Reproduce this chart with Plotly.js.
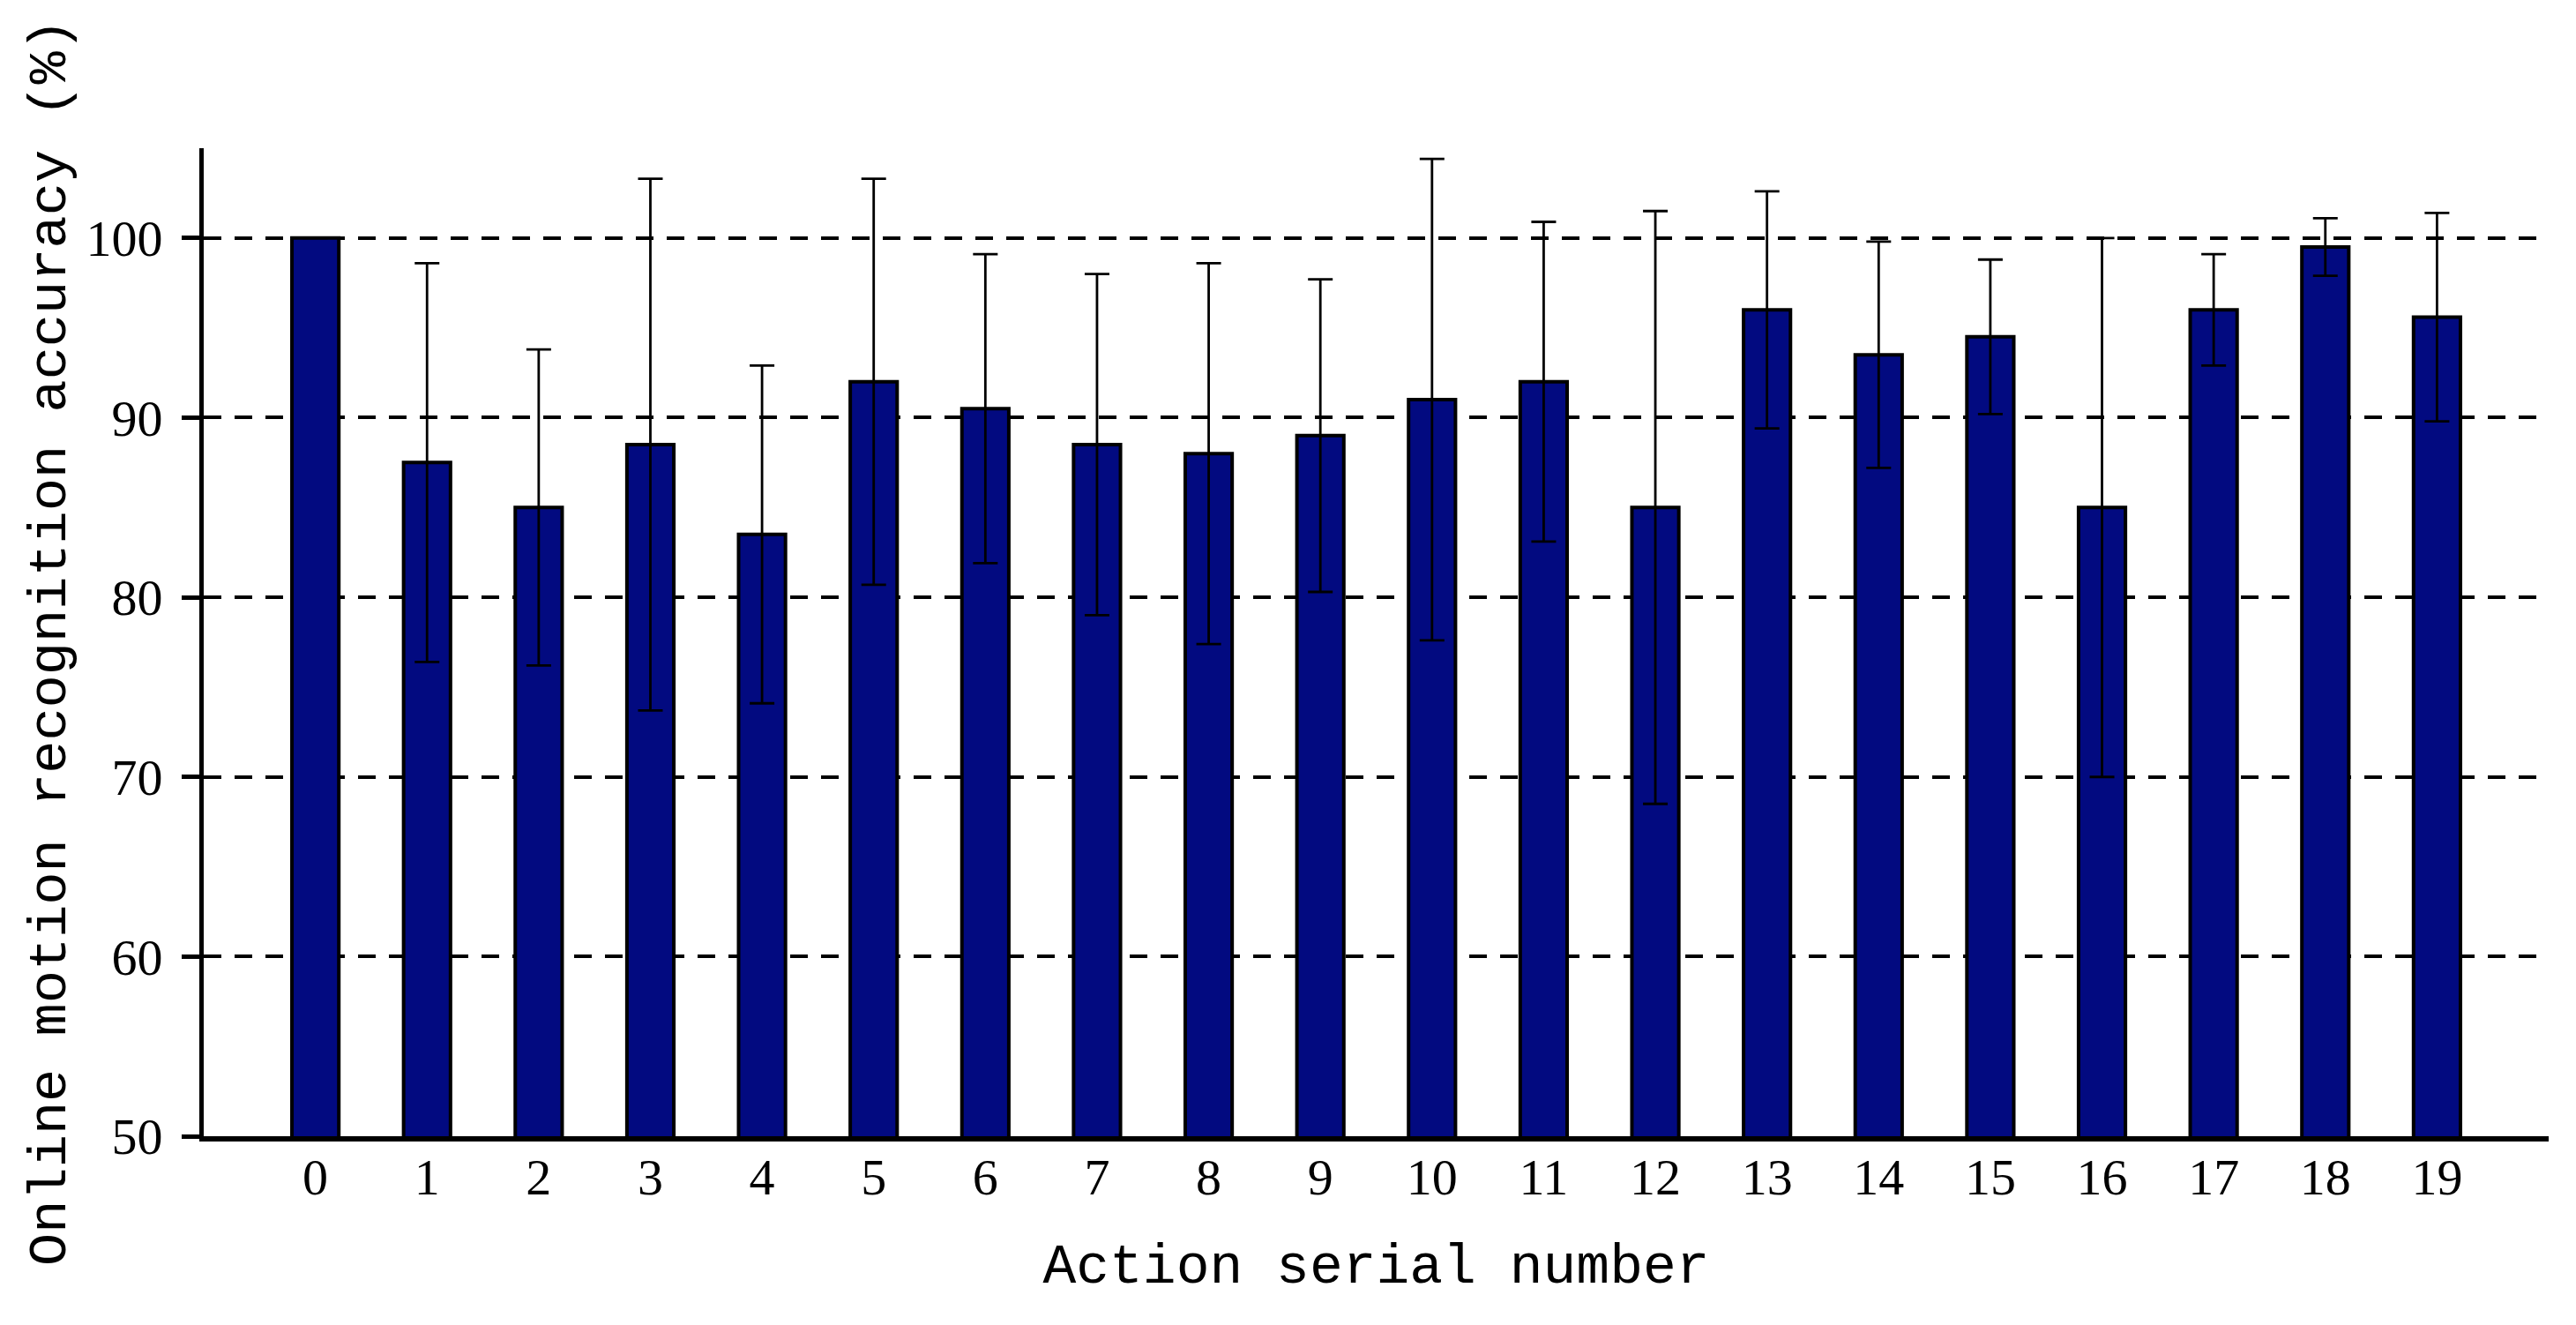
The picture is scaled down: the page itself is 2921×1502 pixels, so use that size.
<!DOCTYPE html>
<html>
<head>
<meta charset="utf-8">
<script src="https://cdn.plot.ly/plotly-3.0.1.min.js"></script>
<style>
  html, body { margin: 0; padding: 0; background: #ffffff; }
  #chart { width: 2921px; height: 1502px; }
</style>
</head>
<body>
<div id="chart"></div>
<script>
// ---- Data ----
const actionNumbers = [0, 1, 2, 3, 4, 5, 6, 7, 8, 9, 10, 11, 12, 13, 14, 15, 16, 17, 18, 19];
const meanAccuracy  = [100, 87.5, 85, 88.5, 83.5, 92, 90.5, 88.5, 88, 89, 91, 92, 85, 96, 93.5, 94.5, 85, 96, 99.5, 95.6];
const accuracyError = [0, 11.1, 8.8, 14.8, 9.4, 11.3, 8.6, 9.5, 10.6, 8.7, 13.4, 8.9, 16.5, 6.6, 6.3, 4.3, 15.0, 3.1, 1.6, 5.8];
const yTickValues   = [50, 60, 70, 80, 90, 100];
const xAxisTitle = 'Action serial number';
const yAxisTitle = 'Online motion recognition accuracy (%)';

const trace = {
  type: 'bar',
  x: actionNumbers,
  y: meanAccuracy,
  base: 0,
  width: 0.42,
  marker: {
    color: '#020a80',
    line: { color: '#000000', width: 4 }
  },
  error_y: {
    type: 'data',
    array: accuracyError,
    symmetric: true,
    visible: true,
    color: '#000000',
    thickness: 2.8,
    width: 14
  },
  hoverinfo: 'skip'
};

const layout = {
  width: 2921,
  height: 1502,
  margin: { l: 231, r: 31, t: 168, b: 214, pad: 0 },
  paper_bgcolor: '#ffffff',
  plot_bgcolor: '#ffffff',
  showlegend: false,
  xaxis: {
    range: [-1, 20],
    tickvals: actionNumbers,
    ticktext: actionNumbers.map(String),
    showgrid: false,
    zeroline: false,
    showline: true,
    linecolor: '#000000',
    linewidth: 6,
    ticks: '',
    ticklabelstandoff: -10,
    tickfont: { family: 'Liberation Serif, Times New Roman, serif', size: 58, color: '#000000' },
    title: {
      text: xAxisTitle,
      standoff: 46,
      font: { family: 'Liberation Mono, Courier New, monospace', size: 63, color: '#000000' }
    },
    fixedrange: true
  },
  yaxis: {
    range: [50, 105],
    tickvals: yTickValues,
    ticktext: yTickValues.map(String),
    showgrid: true,
    gridcolor: '#000000',
    gridwidth: 4,
    griddash: '20px,15px',
    zeroline: false,
    showline: true,
    linecolor: '#000000',
    linewidth: 5,
    ticks: 'outside',
    ticklen: 20,
    tickwidth: 5,
    tickcolor: '#000000',
    ticklabelstandoff: 10,
    tickfont: { family: 'Liberation Serif, Times New Roman, serif', size: 58, color: '#000000' },
    title: {
      text: yAxisTitle,
      standoff: 4,
      font: { family: 'Liberation Mono, Courier New, monospace', size: 62, color: '#000000' }
    },
    fixedrange: true
  }
};

Plotly.newPlot('chart', [trace], layout, { displayModeBar: false, staticPlot: true });
</script>
</body>
</html>
